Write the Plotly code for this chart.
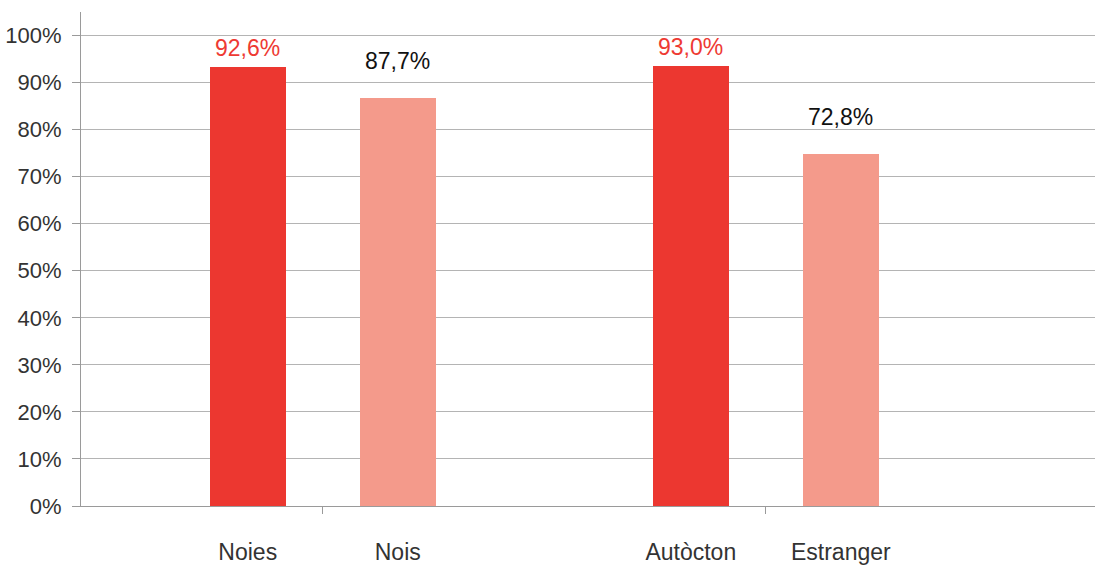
import plotly.graph_objects as go

# ---- data ----
categories = ["Noies", "Nois", "Autòcton", "Estranger"]
groups = [0, 0, 1, 1]                 # two comparison groups
series = ["a", "b", "a", "b"]          # a = dark bar, b = light bar
bar_values = [93.4, 86.8, 93.6, 74.9]  # bar heights (%)
bar_labels = ["92,6%", "87,7%", "93,0%", "72,8%"]
y_ticks = [0, 10, 20, 30, 40, 50, 60, 70, 80, 90, 100]
y_ticktext = [f"{v}%" for v in y_ticks]

# ---- styles ----
colors = {"a": "#EC3730", "b": "#F49A8B"}
label_colors = {"a": "#EE3A33", "b": "#111111"}
label_gap = {"a": 4, "b": 22}
side = {"a": -1, "b": 1}
offset = 0.1693
bar_w = 0.1716
FONT = "Liberation Sans, Arial, sans-serif"

xpos = [g + side[s] * offset for g, s in zip(groups, series)]

fig = go.Figure()
for s in ["a", "b"]:
    idx = [i for i, ss in enumerate(series) if ss == s]
    fig.add_trace(go.Bar(
        x=[xpos[i] for i in idx],
        y=[bar_values[i] for i in idx],
        width=bar_w,
        marker=dict(color=colors[s], line=dict(width=0)),
        showlegend=False,
        hoverinfo="skip",
    ))

for i in range(len(categories)):
    s = series[i]
    fig.add_annotation(
        x=xpos[i], y=bar_values[i], xref="x", yref="y",
        text=bar_labels[i], showarrow=False,
        yanchor="bottom", xanchor="center",
        yshift=label_gap[s],
        font=dict(family=FONT, size=23, color=label_colors[s]),
    )

fig.update_layout(
    width=1095, height=565,
    margin=dict(l=81, r=0, t=12, b=59, autoexpand=False),
    paper_bgcolor="white", plot_bgcolor="white",
    font=dict(family=FONT, size=22, color="#333333"),
    bargap=0,
)
fig.update_xaxes(
    range=[-0.5456, 1.743],
    tickmode="array", tickvals=xpos, ticktext=categories,
    ticks="", showgrid=False, zeroline=False,
    showline=True, linecolor="#9a9a9a", linewidth=1,
    ticklabelstandoff=25,
    tickfont=dict(family=FONT, size=23, color="#333333"),
    minor=dict(tickmode="array", tickvals=sorted(set(groups)), ticks="outside",
               ticklen=7, tickcolor="#9a9a9a", tickwidth=1, showgrid=False),
)
fig.update_yaxes(
    range=[0, 105],
    tickmode="array", tickvals=y_ticks, ticktext=y_ticktext,
    ticks="outside", ticklen=8, tickcolor="#9a9a9a",
    showline=True, linecolor="#9a9a9a", linewidth=1,
    showgrid=True, gridcolor="#b4b4b4", gridwidth=1,
    zeroline=False, ticklabelstandoff=6,
    tickfont=dict(family=FONT, size=22, color="#333333"),
)

fig.write_html("out.html", config={"displayModeBar": False},
               post_script="document.body.style.margin='0px';")
